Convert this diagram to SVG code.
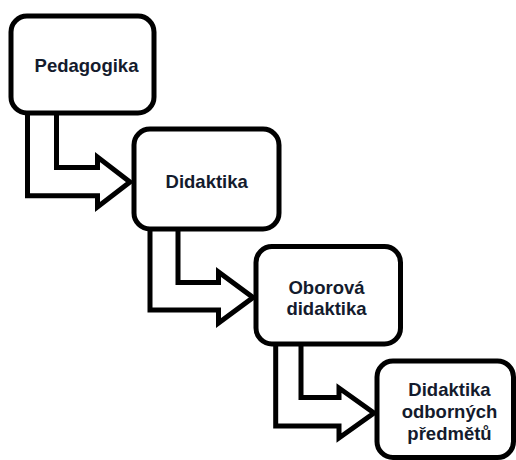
<svg xmlns="http://www.w3.org/2000/svg" width="516" height="460" viewBox="0 0 516 460">
<style>
.box{fill:#ffffff;stroke:#000000;stroke-width:5}
.arrow{fill:#ffffff;stroke:#000000;stroke-width:5;stroke-linejoin:miter;stroke-miterlimit:10}
.lbl{font-family:"Liberation Sans",Arial,sans-serif;font-weight:bold;font-size:18.5px;fill:#141b2d;text-anchor:middle}
</style>
<rect width="516" height="460" fill="#ffffff"/>
<g id="connectors">
<polygon class="arrow" points="27.5,112 27.5,195.8 97.5,195.8 97.5,207 130,182 97.5,157 97.5,167.5 56.5,167.5 56.5,112"/>
<polygon class="arrow" points="150,228 150,310 218.5,310 218.5,323 253,297.5 218.5,272 218.5,282.5 178,282.5 178,228"/>
<polygon class="arrow" points="275.7,343 275.7,426 339,426 339,438 374,413 339,388 339,397.5 301,397.5 301,343"/>
</g>
<g id="node-pedagogika">
<rect class="box" x="11" y="16" width="143" height="97" rx="16" ry="16"/>
<text class="lbl" x="86.5" y="71.7">Pedagogika</text>
</g>
<g id="node-didaktika">
<rect class="box" x="134" y="129" width="145" height="100" rx="16" ry="16"/>
<text class="lbl" x="206.7" y="188">Didaktika</text>
</g>
<g id="node-oborova">
<rect class="box" x="256" y="246.5" width="144.5" height="97.5" rx="16" ry="16"/>
<text class="lbl" x="326.5" y="294">Oborová</text>
<text class="lbl" x="326.5" y="315">didaktika</text>
</g>
<g id="node-odborne">
<rect class="box" x="377" y="361" width="136.5" height="96.5" rx="16" ry="16"/>
<text class="lbl" x="449.5" y="396">Didaktika</text>
<text class="lbl" x="449.5" y="418">odborných</text>
<text class="lbl" x="449.5" y="440">předmětů</text>
</g>
</svg>
